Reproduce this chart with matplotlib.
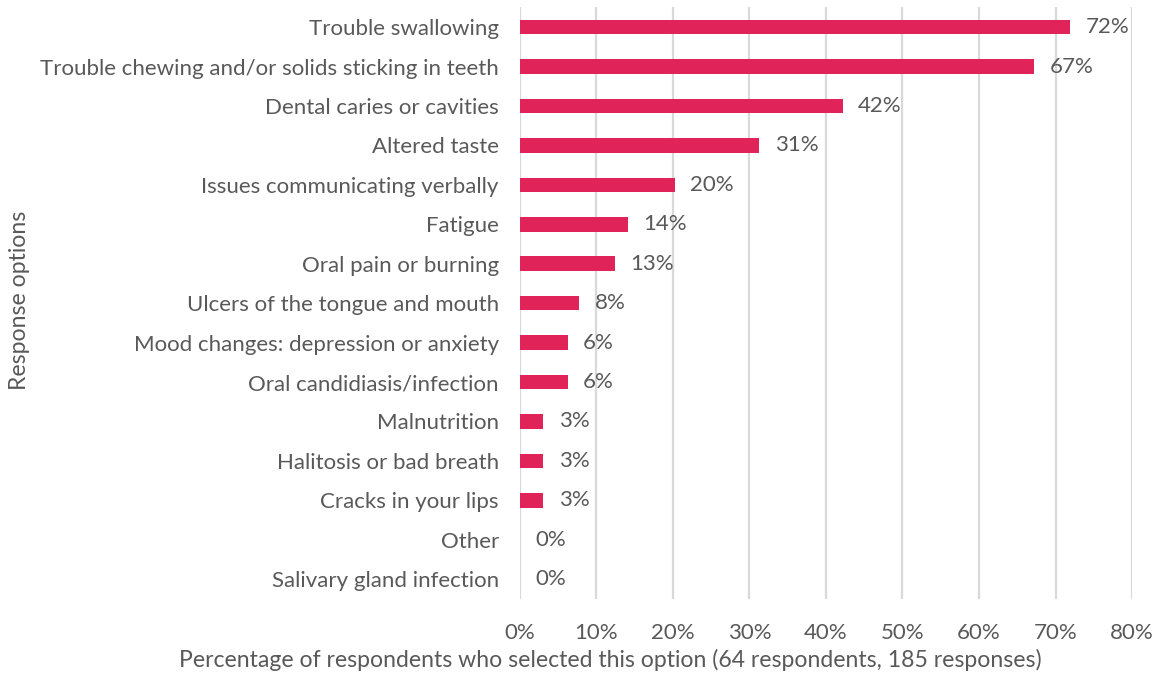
import matplotlib
matplotlib.use('Agg')
import matplotlib.pyplot as plt
from matplotlib.ticker import FuncFormatter

# Survey answers (64 respondents, 185 responses)
options = [
    'Trouble swallowing',
    'Trouble chewing and/or solids sticking in teeth',
    'Dental caries or cavities',
    'Altered taste',
    'Issues communicating verbally',
    'Fatigue',
    'Oral pain or burning',
    'Ulcers of the tongue and mouth',
    'Mood changes: depression or anxiety',
    'Oral candidiasis/infection',
    'Malnutrition',
    'Halitosis or bad breath',
    'Cracks in your lips',
    'Other',
    'Salivary gland infection',
]
percent = [71.9, 67.2, 42.2, 31.3, 20.3, 14.1, 12.5, 7.8, 6.3, 6.3, 3.1, 3.1, 3.1, 0.0, 0.0]
pct_labels = ['72%', '67%', '42%', '31%', '20%', '14%', '13%', '8%', '6%', '6%',
              '3%', '3%', '3%', '0%', '0%']
x_ticks = [0, 10, 20, 30, 40, 50, 60, 70, 80]

text_col = '#595959'
bar_col = '#E0245A'
fs = 16

plt.rcParams['font.family'] = ['Lato', 'DejaVu Sans']

fig = plt.figure(figsize=(11.6, 6.73), dpi=100)
ax = fig.add_axes([0.448, 0.110, 0.528, 0.879])

y = list(range(len(options)))
ax.barh(y, percent, height=0.37, color=bar_col, zorder=3)
for yi, v, lab in zip(y, percent, pct_labels):
    ax.annotate(lab, (v, yi), xytext=(11, 0), textcoords='offset points',
                va='center', ha='left', fontsize=fs, color=text_col)

ax.set_ylim(len(options) - 0.5, -0.5)
ax.set_xlim(0, 80)
ax.set_yticks(y)
ax.set_yticklabels(options, fontsize=fs, color=text_col)
ax.set_xticks(x_ticks)
ax.xaxis.set_major_formatter(FuncFormatter(lambda v, p: f'{v:.0f}%'))
ax.tick_params(axis='x', labelsize=fs, colors=text_col, length=0, pad=17)
ax.tick_params(axis='y', length=0, pad=15)

ax.grid(axis='x', color='#D9D9D9', linewidth=1.6, zorder=0)
for s in ax.spines.values():
    s.set_visible(False)

fig.text(610 / 1160, 1 - 660 / 673,
         'Percentage of respondents who selected this option (64 respondents, 185 responses)',
         fontsize=16.6, color=text_col, ha='center', va='center')
fig.text(20 / 1160, 1 - 300 / 673, 'Response options', fontsize=16.6, color=text_col,
         rotation=90, ha='center', va='center')

fig.savefig('out.png', dpi=100)
